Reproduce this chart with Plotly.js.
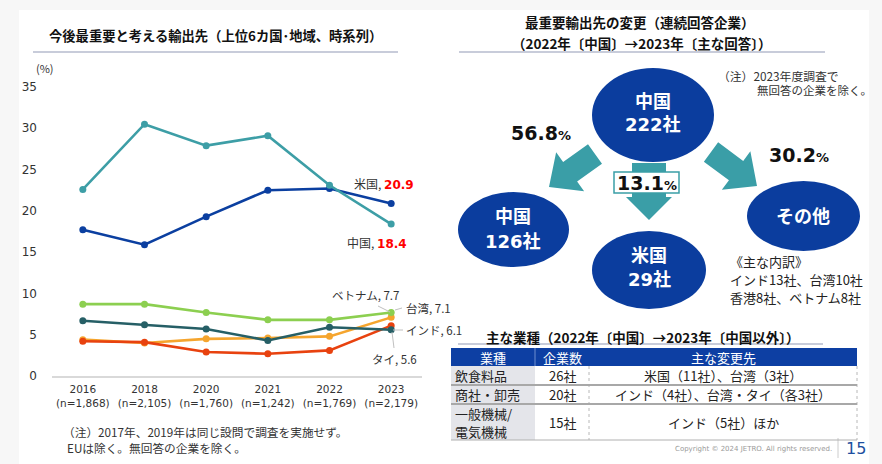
<!DOCTYPE html>
<html><head><meta charset="utf-8">
<script src="https://cdn.plot.ly/plotly-3.0.1.min.js"></script>
<style>html,body{margin:0;padding:0;background:#fff}#chart{width:882px;height:464px}</style>
</head><body><div id="chart"></div>
<script>
// ---- line chart data ----
const years = ['2016','2018','2020','2021','2022','2023'];
const sampleSizes = ['n=1,868','n=2,105','n=1,760','n=1,242','n=1,769','n=2,179'];
const china    = [22.6, 30.5, 27.9, 29.1, 23.1, 18.4];
const usa      = [17.7, 15.9, 19.3, 22.5, 22.7, 20.9];
const vietnam  = [8.7, 8.7, 7.7, 6.8, 6.8, 7.7];
const taiwan   = [4.4, 4.0, 4.5, 4.6, 4.8, 7.1];
const india    = [4.2, 4.1, 2.9, 2.7, 3.1, 6.1];
const thailand = [6.7, 6.2, 5.7, 4.3, 5.9, 5.6];
const seriesNames = ['台湾','インド','ベトナム','タイ','米国','中国'];

// ---- flow diagram data ----
const flowSourceName = '中国';
const flowSourceCount = 222;
const flowTargetNames = ['中国','米国','その他'];
const flowTargetCounts = [126, 29, null];
const flowShares = [56.8, 13.1, 30.2];
const othersBreakdown = ['《主な内訳》','インド13社、台湾10社','香港8社、ベトナム8社'];

// ---- industry table data ----
const tableHeader = ['業種','企業数','主な変更先'];
const industries = ['飲食料品','商社・卸売','一般機械/<br>電気機械'];
const industryCounts = ['26社','20社','15社'];
const destinations = ['米国（11社）、台湾（3社）','インド（4社）、台湾・タイ（各3社）','インド（5社）ほか'];

// ---- helpers (pixel -> paper) ----
const W = 882, H = 464;
const px = x => x / W;
const py = y => 1 - y / H;
const JP = '"Noto Sans CJK JP", "Noto Sans", sans-serif';
const NUM = '"DejaVu Sans", "Noto Sans CJK JP", sans-serif';
const TEAL = '#3a9ea7', NAVY = '#0b3d9e';

function ann(text, x, y, o) {
  o = o || {};
  return {xref:'paper', yref:'paper', x:px(x), y:py(y), text:text, showarrow:false,
    xanchor:o.xa || 'center', yanchor:'middle', borderpad:0,
    font:{family:o.family || JP, size:o.size || 12, color:o.color || '#333'}};
}
function rect(x0,y0,x1,y1,fill,line,lw,dash,layer){
  return {type:'rect', xref:'paper', yref:'paper', x0:px(x0), x1:px(x1), y0:py(y1), y1:py(y0),
    fillcolor:fill || 'rgba(0,0,0,0)', line:{color:line || 'rgba(0,0,0,0)', width:lw || 0, dash:dash || 'solid'}, layer:layer || 'above'};
}
function seg(x0,y0,x1,y1,color,w,dash){
  return {type:'line', xref:'paper', yref:'paper', x0:px(x0), x1:px(x1), y0:py(y0), y1:py(y1),
    line:{color:color, width:w, dash:dash || 'solid'}, layer:'above'};
}
function ellipse(x0,y0,x1,y1,fill){
  return {type:'circle', xref:'paper', yref:'paper', x0:px(x0), x1:px(x1), y0:py(y1), y1:py(y0),
    fillcolor:fill, line:{width:0}, layer:'above'};
}
function arrowPath(tx,ty,hx,hy,sh,hh,hl){
  const dx=hx-tx, dy=hy-ty, L=Math.hypot(dx,dy), ux=dx/L, uy=dy/L, nx=-uy, ny=ux;
  const bx=hx-ux*hl, by=hy-uy*hl;
  const pts=[[tx+nx*sh,ty+ny*sh],[bx+nx*sh,by+ny*sh],[bx+nx*hh,by+ny*hh],[hx,hy],
             [bx-nx*hh,by-ny*hh],[bx-nx*sh,by-ny*sh],[tx-nx*sh,ty-ny*sh]];
  return {type:'path', xref:'paper', yref:'paper', layer:'above',
    path:'M'+pts.map(p=>px(p[0]).toFixed(5)+','+py(p[1]).toFixed(5)).join('L')+'Z',
    fillcolor:TEAL, line:{width:0}};
}

// ---- traces ----
const seriesData = [taiwan, india, vietnam, thailand, usa, china];
const seriesColors = ['#f5a52e','#e8420f','#8ccf50','#265f66','#0b3fa0','#3d9ea6'];
const traces = seriesData.map((vals,i)=>({
  type:'scatter', mode:'lines+markers', x:years, y:vals, name:seriesNames[i],
  line:{color:seriesColors[i], width:2.6}, marker:{color:seriesColors[i], size:7},
  xaxis:'x', yaxis:'y', hoverinfo:'skip', showlegend:false
}));

// ---- shapes ----
const shapes = [
  rect(0,0,882,464,'#f7f7f7',null,0,null,'below'),
  rect(19,10,869,464,'#ffffff',null,0,null,'below'),
  seg(33,52,398,52,'#c8ccda',2),
  seg(459,52,825,52,'#c8ccda',2),
  seg(458,344,823,344,'#c8ccda',2),
  // arrows
  arrowPath(595,154,549,187,12,24,26),
  arrowPath(711,152,757,186,12,24,26),
  arrowPath(649,163,649,220,17,23,23),
  rect(614,172,679,193,'#ffffff',TEAL,1.5),
  // ellipses
  ellipse(592,68,714,162,NAVY),
  ellipse(458,192,569,267,NAVY),
  ellipse(592,231,706,309,NAVY),
  ellipse(747,181,860,251,NAVY),
  // leader lines
  seg(378,306,390,312,'#c0c0c0',1),
  seg(395,310,402,308,'#c0c0c0',1),
  seg(393,330,403,330,'#c0c0c0',1),
  seg(392,332,394,348,'#c0c0c0',1),
  // footer separator
  seg(838,438,838,458,'#cccccc',1)
];

// ---- table (manual) ----
const colX = [451,535,589,857];
const rowY = [348,366,385,404,440];
shapes.push(rect(colX[0],rowY[0],colX[3],rowY[1],'#0d3fa3'));
shapes.push(seg(colX[1],rowY[0],colX[1],rowY[1],'#6f8fcf',1));
shapes.push(rect(colX[0],rowY[1],colX[1],rowY[4],'#e4e5ea'));
shapes.push(seg(colX[2],rowY[1],colX[2],rowY[4],'#b8b8b8',1,'dot'));
shapes.push(seg(colX[3],rowY[1],colX[3],rowY[4],'#b8b8b8',1,'dot'));
for (let r=2;r<=3;r++) shapes.push(seg(colX[0],rowY[r],colX[3],rowY[r],'#a8a8a8',2));
shapes.push(seg(colX[0],rowY[4],colX[3],rowY[4],'#b0b0b0',1));

// ---- annotations ----
const red = v => '<span style="color:#ff0000;font-family:DejaVu Sans"><b>'+v+'</b></span>';
const annotations = [
  ann('<b>今後最重要と考える輸出先（上位6カ国･地域、時系列）</b>',215,35,{size:13.3,color:'#111'}),
  ann('(%)',35,68,{xa:'left',size:11,color:'#333'}),
  ann('<b>最重要輸出先の変更（連続回答企業）</b>',640,22,{size:13.5,color:'#111'}),
  ann('<b>（2022年〔中国〕→2023年〔主な回答〕）</b>',641,43,{size:13.5,color:'#111'}),
  // line labels
  ann('米国, '+red(usa[5].toFixed(1)),415,183,{xa:'right',size:12}),
  ann('中国, '+red(china[5].toFixed(1)),408,242,{xa:'right',size:12}),
  ann('ベトナム, '+vietnam[5].toFixed(1),400,295,{xa:'right',size:11.5}),
  ann('台湾, '+taiwan[5].toFixed(1),405,308,{xa:'left',size:11.5}),
  ann('インド, '+india[5].toFixed(1),405,330,{xa:'left',size:11.5}),
  ann('タイ, '+thailand[5].toFixed(1),418,359,{xa:'right',size:11.5}),
  // notes
  ann('（注）2017年、2019年は同じ設問で調査を実施せず。',62,431,{xa:'left',size:11.7}),
  ann('EUは除く。無回答の企業を除く。',66,447,{xa:'left',size:11.7}),
  ann('（注）2023年度調査で',717,75,{xa:'left',size:11.8}),
  ann('無回答の企業を除く。',756,90,{xa:'left',size:11.5}),
  // ellipse labels
  ann('<b>'+flowSourceName+'</b>',653,100,{size:18,color:'#fff'}),
  ann('<b>'+flowSourceCount+'社</b>',653,125,{size:18,color:'#fff',family:NUM}),
  ann('<b>'+flowTargetNames[0]+'</b>',513,215,{size:18,color:'#fff'}),
  ann('<b>'+flowTargetCounts[0]+'社</b>',513,241,{size:18,color:'#fff',family:NUM}),
  ann('<b>'+flowTargetNames[1]+'</b>',649,254,{size:18,color:'#fff'}),
  ann('<b>'+flowTargetCounts[1]+'社</b>',649,279,{size:18,color:'#fff',family:NUM}),
  ann('<b>'+flowTargetNames[2]+'</b>',803,215,{size:18,color:'#fff'}),
  // shares
  ann('<b>'+flowShares[0].toFixed(1)+'</b><span style="font-size:13px"><b>%</b></span>',541,133,{size:19,color:'#111',family:NUM}),
  ann('<b>'+flowShares[1].toFixed(1)+'</b><span style="font-size:13px"><b>%</b></span>',647,183,{size:19,color:'#111',family:NUM}),
  ann('<b>'+flowShares[2].toFixed(1)+'</b><span style="font-size:13px"><b>%</b></span>',799,155,{size:19,color:'#111',family:NUM}),
  // breakdown
  ann(othersBreakdown[0],729,261,{xa:'left',size:13,color:'#222'}),
  ann(othersBreakdown[1],729,279,{xa:'left',size:13,color:'#222'}),
  ann(othersBreakdown[2],729,297,{xa:'left',size:13,color:'#222'}),
  // table title
  ann('<b>主な業種（2022年〔中国〕→2023年〔中国以外〕）</b>',642,337,{size:13.5,color:'#111'}),
  // footer
  ann('Copyright © 2024 JETRO. All rights reserved.',833,449,{xa:'right',size:7,color:'#9a9a9a',family:NUM}),
  ann('15',856,448,{size:16,color:'#1d4fa0',family:NUM})
];
// table header + cells
const colCenters = [(colX[0]+colX[1])/2,(colX[1]+colX[2])/2,(colX[2]+colX[3])/2];
tableHeader.forEach((h,i)=>annotations.push(ann(h,colCenters[i],357,{size:13,color:'#ffffff'})));
for (let r=0;r<industries.length;r++){
  const top=rowY[r+1], bot=rowY[r+2], cy=(top+bot)/2;
  const parts = industries[r].split('<br>');
  const lh = (bot-top)/parts.length;
  parts.forEach((p,k)=>annotations.push(ann(p,454,top+lh*(k+0.5),{xa:'left',size:13,color:'#222'})));
  annotations.push(ann(industryCounts[r],colCenters[1],cy,{size:13,color:'#222'}));
  annotations.push(ann(destinations[r],colCenters[2],cy,{size:13,color:'#222'}));
}

const layout = {
  width:W, height:H, margin:{l:0,r:0,t:0,b:0,pad:0},
  paper_bgcolor:'#ffffff', plot_bgcolor:'rgba(0,0,0,0)',
  font:{family:JP, color:'#333'},
  showlegend:false,
  xaxis:{domain:[px(52),px(422)], type:'category', range:[-0.5,5.5],
    tickvals:years, ticktext:years.map((y,i)=>y+'<br>('+sampleSizes[i]+')'),
    tickfont:{family:NUM, size:10.5, color:'#333'}, ticklabelstandoff:3,
    showline:true, linecolor:'#d9d9d9', linewidth:1.5, showgrid:false, zeroline:false, ticks:'', fixedrange:true},
  yaxis:{domain:[py(376),py(87)], range:[0,35], dtick:5, tick0:0,
    tickfont:{family:NUM, size:12, color:'#333'}, showgrid:false, zeroline:false,
    showline:false, ticks:'', ticklabelstandoff:14, fixedrange:true},
  shapes:shapes, annotations:annotations
};
Plotly.newPlot('chart', traces, layout, {staticPlot:true, displayModeBar:false});
</script></body></html>
